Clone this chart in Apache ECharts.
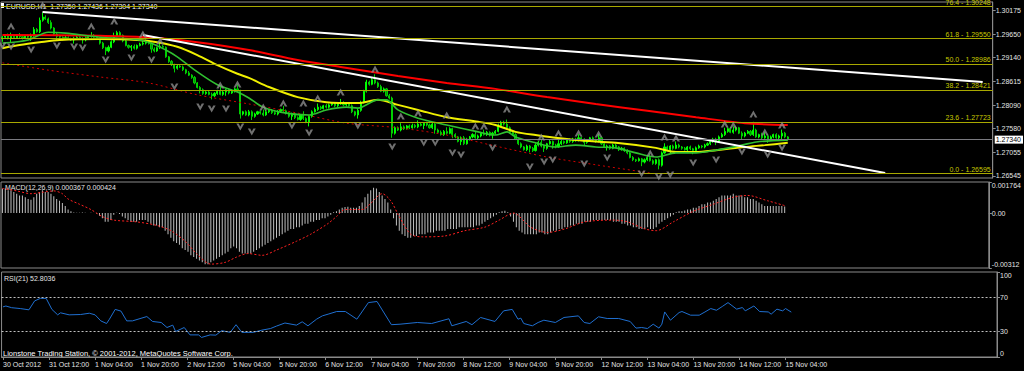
<!DOCTYPE html>
<html><head><meta charset="utf-8">
<script src="https://cdn.jsdelivr.net/npm/echarts@6/dist/echarts.min.js"></script>
<style>html,body{margin:0;padding:0;background:#000;}#c{width:1024px;height:371px;}</style>
</head><body><div id="c"></div>
<script>
// ---------- DATA ----------
const timeLabels = ["30 Oct 2012","31 Oct 12:00","1 Nov 04:00","1 Nov 20:00","2 Nov 12:00","5 Nov 04:00","5 Nov 20:00","6 Nov 12:00","7 Nov 04:00","7 Nov 20:00","8 Nov 12:00","9 Nov 04:00","9 Nov 20:00","12 Nov 12:00","13 Nov 04:00","13 Nov 20:00","14 Nov 12:00","15 Nov 04:00"];
const totalBars = 346;
const firstOpen = 1.2955;
const closes = [
1.2958,1.2962,1.2955,1.2960,1.2957,1.2963,1.2959,1.2956,1.2961,1.2958,
1.2962,1.2975,1.2970,
1.2995,1.3002,1.2998,1.2990,
1.2978,1.2965,
1.2960,1.2958,1.2954,1.2957,1.2955,1.2952,1.2956,1.2958,1.2955,1.2952,1.2957,1.2960,1.2962,1.2958,1.2955,
1.2945,1.2935,1.2928,1.2936,1.2948,
1.2960,1.2968,1.2962,1.2950,
1.2940,1.2936,1.2938,1.2934,1.2940,1.2943,1.2945,1.2950,
1.2944,1.2932,1.2928,1.2935,1.2938,1.2936,
1.2915,1.2905,1.2898,1.2890,1.2895,
1.2893,1.2887,1.2880,1.2875,1.2870,
1.2858,1.2848,1.2843,1.2835,1.2838,1.2833,
1.2830,1.2835,1.2840,1.2833,1.2838,1.2843,1.2836,1.2840,1.2845,
1.2840,1.2790,1.2795,1.2788,
1.2795,1.2785,1.2790,1.2795,1.2792,1.2788,1.2795,1.2798,1.2793,1.2790,1.2796,1.2800,1.2797,1.2792,
1.2785,1.2790,1.2782,1.2778,1.2788,1.2780,1.2772,1.2785,
1.2795,1.2800,1.2805,1.2802,1.2808,1.2805,1.2810,1.2813,1.2808,1.2812,1.2815,1.2810,1.2812,1.2808,
1.2795,1.2788,1.2798,
1.2815,1.2840,1.2860,1.2855,1.2865,1.2858,
1.2850,1.2840,1.2845,1.2830,1.2825,
1.2748,
1.2760,1.2755,1.2762,1.2758,1.2764,1.2760,1.2765,1.2762,1.2768,1.2765,1.2770,1.2766,1.2760,1.2768,
1.2755,1.2750,1.2745,1.2752,1.2748,1.2758,1.2745,1.2740,1.2730,1.2738,1.2725,1.2735,
1.2740,1.2745,1.2738,1.2742,1.2748,1.2745,1.2750,1.2744,1.2748,1.2752,
1.2765,1.2772,1.2768,1.2760,1.2750,
1.2745,1.2735,1.2725,1.2718,1.2712,1.2720,1.2715,1.2710,
1.2722,1.2728,1.2720,1.2715,1.2725,1.2730,1.2722,1.2718,
1.2725,1.2730,1.2727,1.2733,1.2730,1.2735,1.2732,1.2738,1.2735,1.2728,1.2732,1.2738,1.2733,
1.2730,1.2738,1.2725,1.2718,1.2720,1.2715,1.2722,1.2718,1.2712,1.2715,1.2710,1.2705,
1.2695,1.2690,1.2688,1.2692,1.2685,1.2690,1.2695,1.2688,1.2682,1.2690,1.2678,
1.2705,1.2718,1.2712,1.2720,1.2715,1.2722,1.2718,
1.2715,1.2712,1.2718,1.2714,1.2710,1.2716,1.2720,1.2718,1.2722,1.2725,1.2730,
1.2735,1.2730,1.2740,1.2745,1.2752,1.2758,1.2750,1.2755,1.2760,
1.2748,1.2742,1.2748,1.2752,1.2745,1.2755,1.2740,1.2745,1.2738,1.2742,1.2735,1.2740,1.2745,1.2738,1.2742,1.2748,1.2740,1.2734
];
// wick lengths in pips (0.0001)
const wickUp = [
3,2,4,8,3,2,4,3,2,3, 4,5,3,6,10,4,3,5,2,3, 3,2,4,3,2,
3,4,2,3,3,2,7,3,2,2, 3,2,4,3,8,4,3,2,3,2, 3,4,2,3,7,
3,2,3,4,2,8,3,2,2,3, 2,3,2,3,2,4,2,3,2,3, 3,2,3,4,3,
3,9,3,2,3,4,3,10,3,2, 3,4,3,3,2,3,8,4,2,3, 3,3,2,8,3,
2,3,4,3,2,8,3,2,3,4, 8,3,2,4,3,3,2,4,8,3, 2,3,3,2,3,
4,3,5,3,4,12,3,4,3,2, 4,3,3,3,8,3,2,3,4,3, 8,3,2,3,3,
3,2,3,4,3,9,3,2,3,2, 3,4,3,2,3,8,3,3,8,3, 2,3,3,4,3,
3,10,3,2,3,2,3,2,3,2, 3,4,3,8,3,2,3,2,3,8, 3,2,3,4,3,
3,8,3,2,3,2,3,3,8,3, 2,3,2,3,3,2,3,2,3,2, 3,2,3,2,3,
3,8,3,2,3,3,8,3,2,3, 8,3,2,3,2,3,2,3,3,2, 3,3,2,3,3,
3,4,8,3,3,8,3,2,4,3, 3,3,18,3,2,4,8,3,3,2, 3,3,8,3,2
];
const wickDn = [
7,3,2,8,3,2,3,3,2,3, 8,3,2,3,3,2,3,3,2,8, 3,3,2,3,2,
8,3,2,8,3,2,3,3,2,3, 3,9,3,2,3,2,3,3,2,3, 8,3,3,2,3,
3,2,8,3,2,3,3,2,3,3, 9,3,2,3,3,2,3,3,2,8, 3,3,2,8,3,
3,2,3,8,3,2,3,2,10,3, 2,3,8,3,2,3,3,2,3,3, 2,3,3,2,3,
3,8,3,2,3,3,2,9,3,2, 3,3,2,3,3,2,3,3,2,3, 3,2,3,3,8,
3,2,3,3,2,3,3,2,3,2, 3,10,3,2,3,3,2,3,2,3, 3,2,8,3,2,
3,8,3,2,3,3,2,8,3,2, 8,3,2,3,3,2,3,3,2,3, 3,8,3,2,3,
3,2,3,3,2,3,3,2,3,9, 3,2,3,3,8,3,2,8,3,2, 3,3,2,3,3,
3,2,3,8,3,2,3,3,2,3, 2,8,3,2,3,3,2,3,3,2, 3,3,2,9,3,
3,2,3,3,9,3,2,3,9,3, 2,3,3,2,3,3,8,3,2,3, 3,2,3,3,8,
3,2,3,3,2,3,3,2,8,3, 2,3,3,2,3,3,2,8,3,3, 2,3,7,3,2
];
// moving averages: [bar, price]
const maGreen = [[0,1.2945],[9,1.2952],[16,1.2969],[22,1.2967],[34,1.2958],[45,1.2954],[51,1.2947],[57,1.2930],[61,1.2915],[68,1.2882],[75,1.2854],[82,1.2838],[86,1.2825],[91,1.2805],[99,1.2792],[107,1.2788],[113,1.2799],[120,1.2805],[124,1.2803],[131,1.2821],[134,1.2821],[138,1.2799],[145,1.2781],[155,1.2766],[166,1.2751],[172,1.2744],[176,1.2751],[179,1.2740],[186,1.2727],[193,1.2718],[200,1.2722],[207,1.2718],[214,1.2716],[221,1.2705],[228,1.2696],[235,1.2705],[242,1.2705],[249,1.2711],[258,1.2722],[263,1.2729],[274,1.2733]];
const maYellow = [[0,1.2934],[6,1.2941],[13,1.2947],[20,1.2952],[34,1.2954],[47,1.2952],[54,1.2947],[61,1.2937],[68,1.2919],[75,1.2897],[82,1.2878],[86,1.2869],[93,1.2849],[103,1.2827],[113,1.2816],[124,1.2814],[131,1.2821],[138,1.2810],[145,1.2799],[155,1.2783],[166,1.2773],[172,1.2766],[179,1.2751],[186,1.2744],[200,1.2733],[214,1.2727],[228,1.2716],[235,1.2707],[242,1.2707],[249,1.2711],[259,1.2718],[266,1.2722],[274,1.2727]];
const maRed = [[0,1.2963],[34,1.2961],[51,1.2958],[68,1.2947],[86,1.2930],[103,1.2908],[118,1.2893],[138,1.2873],[155,1.2858],[172,1.2845],[190,1.2827],[207,1.2812],[225,1.2797],[242,1.2783],[259,1.2770],[274,1.2766]];
const maRedDotted = [[0,1.2902],[16,1.2886],[34,1.2871],[51,1.2858],[68,1.2832],[86,1.2812],[103,1.2792],[120,1.2770],[138,1.2760],[155,1.2744],[172,1.2720],[190,1.2696],[207,1.2679],[226,1.2661]];
const trendUpper = [[14,1.3013],[342,1.2860]];
const trendLower = [[49,1.2963],[308,1.2661]];
const fibLevels = [76.4, 61.8, 50.0, 38.2, 23.6, 0.0];
const fibPrices = [1.30248, 1.29550, 1.28986, 1.28421, 1.27723, 1.26595];
const bidPrice = 1.27340;
const upFractals = [[3,1.29825],[14,1.30284],[31,1.29825],[39,1.29934],[49,1.29650],[55,1.29497],[76,1.28535],[82,1.28557],[91,1.28054],[98,1.28141],[105,1.28141],[110,1.28251],[118,1.28382],[130,1.28885],[139,1.27857],[145,1.27922],[155,1.27879],[165,1.27638],[168,1.27638],[176,1.28010],[188,1.27398],[194,1.27485],[201,1.27485],[208,1.27463],[226,1.27048],[231,1.27398],[235,1.27376],[252,1.27682],[255,1.27660],[262,1.27901],[266,1.27507],[272,1.27660]];
const downFractals = [[0,1.29388],[3,1.29366],[10,1.29300],[19,1.29388],[25,1.29366],[28,1.29344],[36,1.29082],[45,1.29125],[52,1.29082],[60,1.28491],[69,1.28054],[73,1.28010],[78,1.28010],[83,1.27616],[87,1.27507],[101,1.27638],[107,1.27485],[124,1.27638],[136,1.27179],[147,1.27266],[151,1.27266],[157,1.27048],[160,1.27004],[171,1.27157],[184,1.26741],[189,1.26851],[192,1.26895],[203,1.26807],[211,1.26938],[223,1.26588],[229,1.26523],[233,1.26566],[241,1.26829],[249,1.26895],[258,1.27070],[267,1.27004],[272,1.27157]];
const priceTicks = [1.30175, 1.29650, 1.29140, 1.28615, 1.28090, 1.27580, 1.27055, 1.26545];
const macdHist = [
0.0014,0.0014,0.0013,0.0013,0.0012,
0.0011,0.0010,0.0010,0.0009,0.0008,0.00075,
0.0009,0.0011,0.0012,0.0013,0.0012,0.0012,
0.0011,0.00095,0.0008,0.0007,0.00057,0.0004,0.0002,0.0001,0.00003,0.00002,
0.00002,0.00003,0.00002,0.00001,0.00002,0.00001,-0.00002,
-0.00015,-0.0003,-0.0005,-0.0005,-0.0004,
-0.0001,0.00002,-0.00005,
-0.0002,-0.0003,-0.0004,-0.0005,-0.0005,-0.0005,-0.0004,-0.0004,-0.0004,
-0.0005,-0.0006,-0.0007,-0.0007,-0.0008,-0.0008,
-0.0010,-0.0012,-0.0014,-0.0016,-0.0017,
-0.0018,-0.0020,-0.0021,-0.0022,-0.0024,-0.0025,-0.0026,
-0.0027,-0.0028,-0.0029,-0.0029,-0.0028,
-0.0027,-0.0026,-0.0025,-0.0024,-0.0023,-0.0022,-0.0020,-0.0019,-0.0020,-0.0022,
-0.0023,-0.0023,-0.0023,-0.0023,-0.0022,-0.0021,-0.0020,-0.0019,-0.0018,-0.0017,
-0.0016,-0.0015,-0.0014,-0.0013,-0.0012,-0.0011,-0.0010,-0.0009,-0.0009,-0.0008,
-0.0008,-0.0007,-0.0006,-0.0006,-0.0005,-0.0005,-0.0004,-0.0004,-0.0003,-0.0003,
-0.0002,-0.0001,0.00005,0.0001,0.0002,0.0003,0.00035,0.00036,0.0003,0.0003,
0.0003,0.0004,0.0006,0.0009,0.0011,0.0013,0.00144,0.0014,0.0012,0.0010,
0.0008,0.0006,0.0002,-0.0003,-0.0007,-0.0010,-0.0012,-0.0013,-0.0014,-0.0014,
-0.0013,-0.0013,-0.0012,-0.0012,-0.0012,-0.0011,-0.0011,-0.0011,-0.0010,-0.0010,
-0.0010,-0.0010,-0.0009,-0.0009,-0.0009,-0.0009,-0.0008,-0.0008,-0.0008,-0.0008,
-0.0008,-0.0008,-0.0007,-0.0007,-0.0006,-0.0005,-0.0004,-0.0003,-0.0002,-0.0001,
0.00005,0.0001,0.00013,0.00005,-0.0002,-0.0005,-0.0008,-0.0010,-0.0011,-0.0012,
-0.0012,-0.0012,-0.0012,-0.0012,-0.0011,-0.0011,-0.0012,-0.0012,-0.0011,-0.0010,
-0.0010,-0.0009,-0.0009,-0.0008,-0.0008,-0.0007,-0.0007,-0.0006,-0.0006,-0.0006,
-0.0005,-0.0005,-0.0005,-0.0004,-0.0004,-0.0004,-0.0004,-0.0004,-0.0004,-0.0004,
-0.0005,-0.0005,-0.0005,-0.0006,-0.0006,-0.0007,-0.0007,-0.0008,-0.0008,-0.0009,
-0.0009,-0.0009,-0.0008,-0.0009,-0.0009,-0.0008,-0.0006,-0.0005,-0.0004,-0.0003,
-0.0002,-0.0001,0.00005,0.0001,0.0001,0.00015,0.0002,0.0002,0.0003,0.0003,
0.0004,0.0005,0.0005,0.0006,0.0006,0.0007,0.0008,0.0009,0.0010,0.0010,
0.0010,0.0010,0.0011,0.0010,0.0010,0.0010,0.0009,0.0009,0.0008,0.0008,
0.0007,0.0006,0.0005,0.0004,0.0004,0.0004,0.0004,0.0004,0.0004,0.0004,0.00037
];
const macdSignal = [[0,0.0014],[5,0.00126],[10,0.0011],[14,0.00118],[18,0.00126],[21,0.0011],[23,0.0008],[27,0.0005],[31,0.0002],[35,-0.0002],[39,-0.0004],[47,-0.0005],[54,-0.0007],[59,-0.001],[64,-0.0016],[68,-0.0023],[73,-0.0029],[78,-0.0028],[82,-0.0025],[86,-0.0023],[91,-0.0024],[96,-0.0021],[103,-0.0016],[108,-0.0012],[114,-0.0006],[117,-0.0002],[120,0.0002],[126,0.0002],[129,0.00055],[133,0.0011],[136,0.0007],[139,-0.0002],[143,-0.0012],[147,-0.00135],[155,-0.0013],[162,-0.001],[169,-0.0008],[174,-0.0004],[179,0],[185,-0.0008],[191,-0.0011],[197,-0.0009],[204,-0.0005],[214,-0.0004],[219,-0.0005],[225,-0.0009],[229,-0.001],[235,-0.0005],[242,0.0001],[249,0.0005],[256,0.0009],[261,0.001],[268,0.0007],[274,0.000424]];
const macdTicks = [0.001764, 0, -0.00312];
const macdTickLabels = ["0.001764", "0.00", "-0.00312"];
const rsiValues = [[0,59],[1,60],[3,58],[6,57],[9,55.5],[11,66],[13,69],[15,69],[17,56],[19,49.6],[20,52],[23,49.6],[27,50],[30,51.5],[32,49.6],[34,42.5],[36,39.4],[37,44.5],[39,56],[41,54],[43,42.5],[45,42.5],[50,47.6],[52,41.8],[55,40.6],[57,34.7],[59,37.5],[60,30],[63,34.7],[65,26],[68,26],[69,23],[72,26],[74,25.7],[76,31],[79,29],[81,38],[83,29],[87,29],[90,31.6],[93,33.5],[95,36.3],[98,40],[102,37.5],[104,41.4],[106,36.7],[109,44.5],[111,48.4],[113,50.4],[116,53.5],[119,53.5],[123,44.5],[127,64],[130,65.3],[135,38],[138,38.6],[144,40.6],[149,39.4],[155,45],[156,36.7],[161,41.8],[163,38],[166,46.5],[171,41.8],[174,54.3],[177,56],[179,44.5],[180,45.7],[181,39.4],[184,36.7],[186,40.6],[188,43.3],[192,40.6],[195,46.5],[200,48.4],[202,40.6],[204,39.4],[207,47.3],[210,45.3],[214,45.3],[218,41.8],[220,34],[222,34.7],[224,33.5],[226,38.6],[228,34],[229,38.6],[230,53],[232,43.3],[235,52.3],[236,53.5],[239,49.2],[242,49.2],[244,53],[246,57],[248,55],[250,59.4],[252,64],[255,56.3],[257,58.2],[258,54.3],[261,60],[263,53.5],[266,53],[267,50.4],[269,56.3],[271,54.3],[272,57],[274,52.8]];
const rsiTicks = [100, 70, 30, 0];
const headerText = "EURUSD,H1  1.27350 1.27436 1.27304 1.27340";
const macdText = "MACD(12,26,9) 0.000367 0.000424";
const rsiText = "RSI(21) 52.8036";
const footerText = "Lionstone Trading Station, \u00A9 2001-2012, MetaQuotes Software Corp.";

// ---------- BUILD ----------
const FONT = '"Liberation Sans", Arial, sans-serif';
const TXT = '#e4e4e4';
const FS = 7;
const cats = Array.from({length: totalBars}, (_, i) => (i % 16 === 0 && timeLabels[i / 16]) ? timeLabels[i / 16] : '');
const candles = closes.map((c, i) => {
  const o = i ? closes[i - 1] : firstOpen;
  return [o, c, +(Math.min(o, c) - wickDn[i] * 0.0001).toFixed(5), +(Math.max(o, c) + wickUp[i] * 0.0001).toFixed(5)];
});
const lbl = (v, ticks, labels) => labels[ticks.findIndex(t => Math.abs(t - v) < 1e-9)];
const gridCommon = {left: 1, right: 27, show: true, borderColor: '#8a8a8a', borderWidth: 1, containLabel: false};
const hiddenX = (gi) => ({type: 'category', gridIndex: gi, data: cats, boundaryGap: true, axisLine: {show: false}, axisTick: {show: false}, axisLabel: {show: false}, splitLine: {show: false}});
const yBase = (gi, min, max, ticks, fmt, vAlignEdges) => ({
  type: 'value', gridIndex: gi, position: 'right', min, max, scale: true,
  splitLine: {show: false},
  axisLine: {show: true, lineStyle: {color: '#8a8a8a'}},
  axisTick: {show: true, customValues: ticks, length: 3, lineStyle: {color: '#8a8a8a'}},
  axisLabel: Object.assign({customValues: ticks, formatter: fmt, color: TXT, fontSize: FS, fontFamily: FONT, margin: 3, hideOverlap: false, showMinLabel: true, showMaxLabel: true},
    vAlignEdges ? {verticalAlignMaxLabel: 'bottom', verticalAlignMinLabel: 'top'} : {})
});
const fracPath = 'path://M5,0 L10,9 L7,9 L5,5 L3,9 L0,9 Z';
const levelLines = fibLevels.map((lv, k) => ({
  yAxis: fibPrices[k],
  lineStyle: {color: '#a8a800', width: 1, type: 'solid'},
  label: {show: true, position: 'insideEndTop', distance: [2, 1], formatter: lv.toFixed(1) + ' - ' + fibPrices[k].toFixed(5), color: '#c8c800', fontSize: FS, fontFamily: FONT}
})).concat([{
  yAxis: bidPrice,
  lineStyle: {color: '#7a7a80', width: 1, type: 'solid'},
  label: {show: true, position: 'end', distance: 2, formatter: bidPrice.toFixed(5), color: '#000', backgroundColor: '#ffffff', padding: [1, 2, 0, 1], fontSize: FS, fontFamily: FONT}
}]);

const option = {
  backgroundColor: '#000',
  animation: false,
  grid: [
    Object.assign({top: 2, height: 176}, gridCommon),
    Object.assign({top: 182, height: 86}, gridCommon),
    Object.assign({top: 272, height: 85}, gridCommon)
  ],
  xAxis: [hiddenX(0), hiddenX(1), {
    type: 'category', gridIndex: 2, data: cats, boundaryGap: true,
    axisLine: {show: true, lineStyle: {color: '#8a8a8a'}},
    axisTick: {show: true, length: 3, alignWithLabel: true, interval: (i) => i % 16 === 0 && i / 16 < timeLabels.length, lineStyle: {color: '#8a8a8a'}},
    axisLabel: {interval: (i) => i % 16 === 0 && i / 16 < timeLabels.length, align: 'left', color: TXT, fontSize: FS, fontFamily: FONT, margin: 4, hideOverlap: false},
    splitLine: {show: false}
  }],
  yAxis: [
    yBase(0, 1.26501, 1.30350, priceTicks, (v) => v.toFixed(5), false),
    yBase(1, -0.00312, 0.001764, macdTicks, (v) => lbl(v, macdTicks, macdTickLabels), true),
    yBase(2, 0, 100, rsiTicks, (v) => String(v), true)
  ],
  graphic: [
    {type: 'rect', shape: {x: 1, y: 3, width: 3, height: 5}, style: {fill: '#ffffff'}},
    {type: 'text', x: 6, y: 6, style: {text: headerText, fill: '#ffffff', fontSize: FS, fontFamily: FONT, verticalAlign: 'middle'}},
    {type: 'text', x: 5, y: 187.5, style: {text: macdText, fill: TXT, fontSize: FS, fontFamily: FONT, verticalAlign: 'middle'}},
    {type: 'text', x: 4, y: 278, style: {text: rsiText, fill: TXT, fontSize: FS, fontFamily: FONT, verticalAlign: 'middle'}},
    {type: 'text', x: 3, y: 353.5, style: {text: footerText, fill: '#ffffff', fontSize: 7.5, fontFamily: FONT, verticalAlign: 'middle'}}
  ],
  series: [
    {type: 'line', xAxisIndex: 0, yAxisIndex: 0, data: [[0, bidPrice]], symbol: 'none', lineStyle: {opacity: 0}, z: 1,
      markLine: {silent: true, symbol: 'none', animation: false, precision: 5, data: levelLines}},
    {
      type: 'candlestick', xAxisIndex: 0, yAxisIndex: 0, data: candles, barWidth: 1.6, z: 2,
      itemStyle: {color: '#00ff00', color0: '#009a00', borderColor: '#00ff00', borderColor0: '#00d000', borderWidth: 1}
    },
    {type: 'line', xAxisIndex: 0, yAxisIndex: 0, data: maRedDotted, symbol: 'none', smooth: 0.3, z: 3, lineStyle: {color: '#d00000', width: 1, type: [2, 3]}},
    {type: 'line', xAxisIndex: 0, yAxisIndex: 0, data: maRed, symbol: 'none', smooth: 0.3, z: 3, lineStyle: {color: '#ff0000', width: 2}},
    {type: 'line', xAxisIndex: 0, yAxisIndex: 0, data: maYellow, symbol: 'none', smooth: 0.3, z: 3, lineStyle: {color: '#f0f000', width: 2}},
    {type: 'line', xAxisIndex: 0, yAxisIndex: 0, data: maGreen, symbol: 'none', smooth: 0.3, z: 3, lineStyle: {color: '#30c030', width: 1.6}},
    {type: 'line', xAxisIndex: 0, yAxisIndex: 0, data: trendUpper, symbol: 'none', z: 4, lineStyle: {color: '#ffffff', width: 2}},
    {type: 'line', xAxisIndex: 0, yAxisIndex: 0, data: trendLower, symbol: 'none', z: 4, lineStyle: {color: '#ffffff', width: 2}},
    {type: 'scatter', xAxisIndex: 0, yAxisIndex: 0, data: upFractals, symbol: fracPath, symbolSize: [8, 7], z: 5, itemStyle: {color: '#8c8c8c'}},
    {type: 'scatter', xAxisIndex: 0, yAxisIndex: 0, data: downFractals, symbol: fracPath, symbolSize: [8, 7], symbolRotate: 180, z: 5, itemStyle: {color: '#8c8c8c'}},
    {type: 'bar', xAxisIndex: 1, yAxisIndex: 1, data: macdHist, barWidth: 1, itemStyle: {color: '#c0c0c0'}},
    {type: 'line', xAxisIndex: 1, yAxisIndex: 1, data: macdSignal, symbol: 'none', smooth: 0.3, lineStyle: {color: '#ff2020', width: 1, type: [2, 2]}},
    {
      type: 'line', xAxisIndex: 2, yAxisIndex: 2, data: rsiValues, symbol: 'none', lineStyle: {color: '#1f6fd0', width: 1},
      markLine: {silent: true, symbol: 'none', label: {show: false}, lineStyle: {color: '#c0c0c0', width: 1, type: [2, 2]}, data: [{yAxis: 70}, {yAxis: 30}]}
    }
  ]
};
const chart = echarts.init(document.getElementById('c'), null, {renderer: 'svg', width: 1024, height: 371});
chart.setOption(option);
</script>
</body></html>
